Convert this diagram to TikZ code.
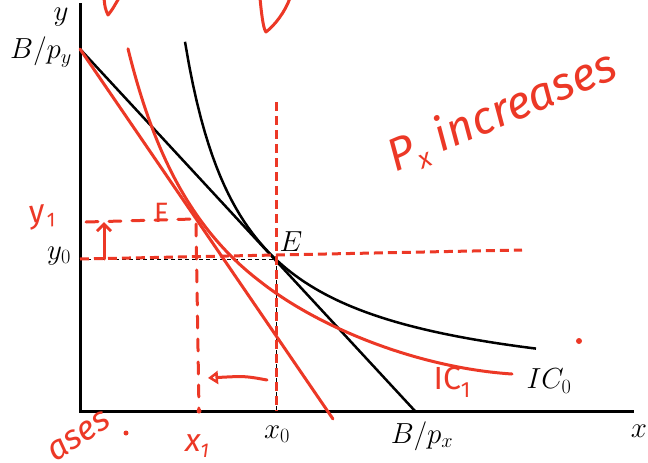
\RequirePackage{fix-cm}
\documentclass[tikz,border=0pt]{standalone}
\usepackage{fontspec}
\newfontfamily\hand{Fira Sans}
\usetikzlibrary{arrows.meta}
\definecolor{pen}{RGB}{236,56,38}
\begin{document}
\begin{tikzpicture}[x=1pt,y=-1pt,
  axis/.style={line width=3pt},
  blk/.style={line width=2.5pt},
  redpen/.style={draw=pen,line width=3pt,line cap=round,line join=round},
  reddash/.style={draw=pen,line width=3pt,dash pattern=on 9pt off 5pt},
  handdash/.style={draw=pen,line width=3pt,line cap=round,dash pattern=on 12pt off 11pt},
  thindash/.style={line width=0.6pt,dash pattern=on 4pt off 3pt},
  lbl/.style={inner sep=0pt,font=\fontsize{29}{34}\selectfont},
  hw/.style={inner sep=0pt,text=pen},
  dot/.style={circle,fill=pen,inner sep=0pt,minimum size=5pt}]
\useasboundingbox (0,0) rectangle (648,463);
% key points
\coordinate (Ytop) at (80,3);
\coordinate (O) at (80,411);
\coordinate (Xend) at (634,411);
\coordinate (By) at (80,49);
\coordinate (Bx) at (415,411);
\coordinate (Bx1) at (333,419);
\coordinate (E) at (276,259);
\coordinate (X0) at (276,411);
\coordinate (Y0) at (80,259);
\coordinate (Vtop) at (276,102);
\coordinate (Hend) at (522,250);
% thin original guides
\draw[thindash] (Y0) -- (E) -- (X0);
% black budget line and IC0
\draw[blk] (By) -- (Bx);
\draw[blk] plot[domain=185:536,samples=90] (\x,{399.9-210.08/((\x-126.3)*0.01)});
% axes
\draw[axis] (Ytop) -- (O) -- (Xend);
% labels
\node[lbl] (ylab) at (61,17) {$y$};
\node[lbl] (bylab) at (41,52) {$B/p_y$};
\node[lbl] (y0lab) at (59,256) {$y_0$};
\node[lbl] (x0lab) at (277,434) {$x_0$};
\node[lbl] (bxlab) at (422,436) {$B/p_x$};
\node[lbl] (xlab) at (639,431) {$x$};
\node[lbl] (ic0lab) at (549,381) {$IC_0$};
\node[lbl] (elab) at (291,242) {$E$};
% red annotations
\draw[redpen] (By) -- (Bx1);
\draw[redpen] plot[domain=128:260,samples=60] (\x,{459.6-415.39/((\x-26.84)*0.01)}) .. controls (320,328.8) and (420,368) .. (512,374);
\draw[reddash] (Y0) -- (Hend);
\draw[reddash] (Vtop) -- (X0);
\coordinate (Y1a) at (86,222);
\coordinate (Y1b) at (194,219);
\coordinate (X1top) at (196,224);
\coordinate (X1) at (199,411);
\draw[handdash] (Y1a) -- (Y1b);
\draw[handdash] (X1top) -- (X1);
\node[dot] (x1dot) at (X1) {};
\coordinate (UpA) at (104,259);
\coordinate (UpB) at (104,222);
\draw[redpen,-{Straight Barb[length=7pt,width=14pt]}] (UpA) -- (UpB);
\coordinate (LA) at (267,380);
\coordinate (LB) at (208,378);
\draw[redpen,-{Triangle[open,length=10pt,width=13pt]}] (LA) .. controls (245,376) .. (LB);
\node[hw,font=\hand\fontsize{28}{32}\selectfont] (flab) at (161,213) {F};
\node[hw,font=\hand\fontsize{32}{36}\selectfont\itshape,rotate=8] (y1lab) at (42,217) {y\kern1pt\raisebox{-6pt}{\fontsize{20}{22}\selectfont 1}};
\node[hw,font=\hand\fontsize{32}{36}\selectfont\itshape] (x1lab) at (197,446) {x\raisebox{-6pt}{\fontsize{20}{22}\selectfont 1}};
\node[hw,font=\hand\fontsize{32}{36}\selectfont] (ic1lab) at (452,382) {IC\raisebox{-8pt}{\fontsize{22}{24}\selectfont 1}};
\node[hw,font=\hand\fontsize{46}{50}\selectfont\itshape,rotate=23] (pxinc) at (502,112) {P\raisebox{-8pt}{\fontsize{26}{28}\selectfont x} increases};
\node[hw,font=\hand\fontsize{34}{38}\selectfont\itshape,rotate=33,anchor=base east] (ases) at (113,425) {ases};
\node[dot] (adot) at (126,433) {};
\node[dot,minimum size=6pt] (rdot) at (579,341) {};
% top scribbles
\draw[redpen] (104,-2) .. controls (105,8) .. (108,15) .. controls (112,10) .. (119,-2);
\draw[redpen] (260,-2) .. controls (262,20) and (264,30) .. (266,32) .. controls (275,25) and (285,12) .. (290,-2);
\end{tikzpicture}
\end{document}
